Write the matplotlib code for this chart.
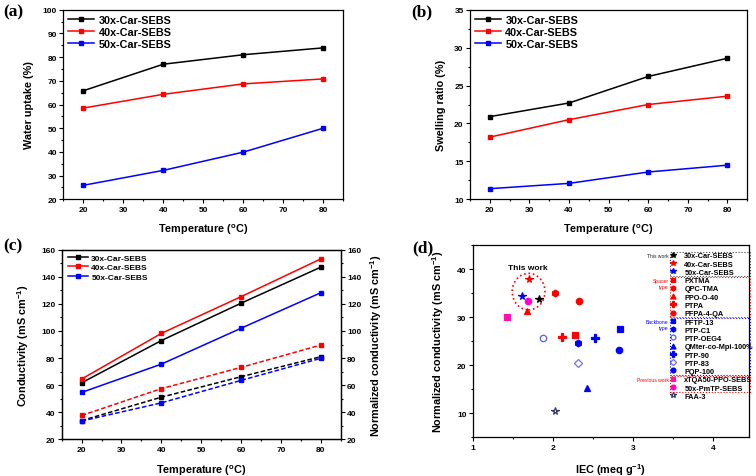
import matplotlib
matplotlib.use('Agg')
import matplotlib.pyplot as plt
from matplotlib.patches import Ellipse, Rectangle
from matplotlib.ticker import MultipleLocator

plt.rcParams['font.family'] = ['Liberation Sans', 'DejaVu Sans']
plt.rcParams['font.weight'] = 'bold'
plt.rcParams['mathtext.default'] = 'regular'
plt.rcParams['axes.linewidth'] = 0.9

# ---------------- data ----------------
temperature = [20, 40, 60, 80]
series_names = ['30x-Car-SEBS', '40x-Car-SEBS', '50x-Car-SEBS']
series_colors = ['black', 'red', 'blue']

water_30 = [65.8, 77.0, 81.0, 83.9]
water_40 = [58.5, 64.3, 68.7, 70.8]
water_50 = [25.9, 32.2, 39.9, 50.0]

swell_30 = [20.9, 22.7, 26.2, 28.6]
swell_40 = [18.2, 20.5, 22.5, 23.6]
swell_50 = [11.4, 12.1, 13.6, 14.5]

cond_30 = [61.7, 92.9, 120.5, 147.1]
cond_40 = [64.5, 98.2, 125.3, 153.2]
cond_50 = [54.6, 75.5, 102.0, 128.2]

norm_30 = [33.8, 51.1, 66.2, 81.0]
norm_40 = [37.6, 57.4, 73.1, 89.6]
norm_50 = [33.5, 46.9, 63.5, 79.8]

mem_names = ['30x-Car-SEBS', '40x-Car-SEBS', '50x-Car-SEBS',
             'PXTMA', 'QPC-TMA', 'PPO-O-40', 'PTPA', 'PFPA-4-QA',
             'PFTP-13', 'PTP-C1', 'PTP-OEG4', 'QMter-co-Mpi-100%', 'PTP-90', 'PTP-83', 'PQP-100',
             'xTQA50-PPO-SEBS', '50x-PmTP-SEBS', 'FAA-3']
mem_iec = [1.82, 1.70, 1.61,
           2.28, 2.03, 1.67, 2.11, 2.32,
           2.84, 2.31, 1.87, 2.43, 2.52, 2.31, 2.82,
           1.43, 1.69, 2.02]
mem_normcond = [33.7, 37.9, 34.3,
                26.3, 35.1, 31.3, 25.8, 33.3,
                27.5, 24.6, 25.7, 15.3, 25.6, 20.4, 23.1,
                30.0, 33.3, 10.4]

# styles for panel (d)
mem_markers = ['*', '*', '*', 's', 'h', '^', 'P', 'o',
               's', 'h', 'o', '^', 'P', 'D', 'o', 's', 'o', '*']
mem_face = ['black', 'red', 'blue', 'red', 'red', 'red', 'red', 'red',
            'blue', 'blue', 'none', 'blue', 'blue', 'none', 'blue',
            '#ff10b0', '#ff00cc', 'none']
mem_edge = ['black', 'red', 'blue', 'red', 'red', 'red', 'red', 'red',
            'blue', 'blue', '#5a5aff', 'blue', 'blue', '#7070ff', 'blue',
            '#ff10b0', '#ff00cc', '#3a3a66']
mem_size = [5.5, 5.5, 5.5, 4.3, 4.8, 4.8, 5.2, 4.6,
            4.3, 4.8, 4.6, 4.8, 5.2, 4.2, 4.6, 4.3, 4.6, 5.5]
groups = [(0, 3, 'This work', '#444444', '#222222'),
          (3, 8, 'Spacer\ntype', 'red', 'red'),
          (8, 15, 'Backbone\ntype', 'blue', 'blue'),
          (15, 17, 'Previous work', 'red', 'red')]

W, H = 756, 477
fig = plt.figure(figsize=(W / 100, H / 100), dpi=100)


def add_axes_px(l, t, r, b):
    return fig.add_axes([l / W, 1 - b / H, (r - l) / W, (b - t) / H])


def style_axes(ax, xlim, xmaj, xmin, ylim, ymaj, ymin):
    ax.set_xlim(*xlim)
    ax.set_ylim(*ylim)
    ax.xaxis.set_major_locator(MultipleLocator(xmaj))
    ax.xaxis.set_minor_locator(MultipleLocator(xmin))
    ax.yaxis.set_major_locator(MultipleLocator(ymaj))
    ax.yaxis.set_minor_locator(MultipleLocator(ymin))
    ax.tick_params(which='both', direction='out', top=False, right=False,
                   labelsize=6, width=0.8, pad=2)
    ax.tick_params(which='major', length=2.6)
    ax.tick_params(which='minor', length=1.4)


label_kw = dict(fontsize=7.8, fontweight='bold')
leg_big = dict(loc='upper left', frameon=False, handlelength=2.4,
               handletextpad=0.4, labelspacing=0.18, borderpad=0, borderaxespad=0,
               prop={'weight': 'bold', 'size': 7.8})

# ---------- (a) ----------
axa = add_axes_px(63.3, 10.7, 343.3, 200.3)
for vals, name, col in zip([water_30, water_40, water_50], series_names, series_colors):
    axa.plot(temperature, vals, '-s', color=col, lw=1.1, ms=3.2, label=name)
style_axes(axa, (15, 85), 10, 5, (20, 100), 10, 5)
axa.set_xlabel('Temperature ($^{o}$C)', **label_kw)
axa.set_ylabel('Water uptake (%)', **label_kw)
axa.yaxis.set_label_coords(-0.103, 0.5)
axa.xaxis.set_label_coords(0.5, -0.12)
axa.legend(bbox_to_anchor=(0.018, 0.972), **leg_big)

# ---------- (b) ----------
axb = add_axes_px(470, 10.7, 747.3, 200.3)
for vals, name, col in zip([swell_30, swell_40, swell_50], series_names, series_colors):
    axb.plot(temperature, vals, '-s', color=col, lw=1.1, ms=3.2, label=name)
style_axes(axb, (15, 85), 10, 5, (10, 35), 5, 2.5)
axb.set_xlabel('Temperature ($^{o}$C)', **label_kw)
axb.set_ylabel('Swelling ratio (%)', **label_kw)
axb.yaxis.set_label_coords(-0.087, 0.5)
axb.xaxis.set_label_coords(0.5, -0.12)
axb.legend(bbox_to_anchor=(0.018, 0.972), **leg_big)

# ---------- (c) ----------
axc = add_axes_px(61.7, 250.7, 340.7, 440.3)
for vals, name, col in zip([cond_30, cond_40, cond_50], series_names, series_colors):
    axc.plot(temperature, vals, '-s', color=col, lw=1.1, ms=3.0, label=name)
style_axes(axc, (15, 85), 10, 5, (20, 160), 20, 10)
axc2 = axc.twinx()
for vals, col in zip([norm_30, norm_40, norm_50], series_colors):
    axc2.plot(temperature, vals, '--s', color=col, lw=1.1, ms=3.0, dashes=(3, 1.5))
axc2.set_ylim(20, 160)
axc2.yaxis.set_major_locator(MultipleLocator(20))
axc2.yaxis.set_minor_locator(MultipleLocator(10))
axc2.tick_params(which='both', direction='out', labelsize=6, width=0.8, pad=2)
axc2.tick_params(which='major', length=2.6)
axc2.tick_params(which='minor', length=1.4)
axc.set_xlabel('Temperature ($^{o}$C)', **label_kw)
axc.set_ylabel('Conductivity (mS cm$^{-1}$)', **label_kw)
axc2.set_ylabel('Normalized conductivity (mS cm$^{-1}$)', **label_kw)
axc.yaxis.set_label_coords(-0.109, 0.5)
axc2.yaxis.set_label_coords(1.10, 0.5)
axc.xaxis.set_label_coords(0.5, -0.121)
axc.legend(loc='upper left', bbox_to_anchor=(0.024, 0.978), frameon=False,
           handlelength=2.3, handletextpad=0.45, labelspacing=0.22, borderpad=0,
           borderaxespad=0, prop={'weight': 'bold', 'size': 6})

# ---------- (d) ----------
axd = add_axes_px(473, 246, 749, 438.3)
for i in range(len(mem_names)):
    axd.plot([mem_iec[i]], [mem_normcond[i]], ls='none', marker=mem_markers[i],
             ms=mem_size[i], mfc=mem_face[i], mec=mem_edge[i], mew=0.9,
             label=mem_names[i])
style_axes(axd, (1, 4.45), 1, 0.5, (5, 45), 10, 5)
axd.set_xlabel('IEC (meq g$^{-1}$)', **label_kw)
axd.set_ylabel('Normalized conductivity (mS cm$^{-1}$)', **label_kw)
axd.yaxis.set_label_coords(-0.0986, 0.5)
axd.xaxis.set_label_coords(0.5, -0.123)
this_work_center = (1.695, 35.3)
axd.add_patch(Ellipse(this_work_center, 0.41, 7.6, fill=False, ec='red', ls=':', lw=1.2))
axd.text(1.69, 40.35, 'This work', ha='center', va='center', fontsize=6, fontweight='bold')

legd = axd.legend(loc='upper left', bbox_to_anchor=(0.715, 0.962), frameon=False,
                  handlelength=0.8, handletextpad=1.1, labelspacing=0.15,
                  borderpad=0, borderaxespad=0, markerscale=0.75,
                  prop={'weight': 'bold', 'size': 5.3})

# panel letters
for lab, x, y in [('(a)', 3, 12), ('(b)', 411, 12), ('(c)', 3, 246), ('(d)', 412, 248)]:
    fig.text(x / W, 1 - y / H, lab, fontfamily='Liberation Serif', fontsize=12.5,
             fontweight='bold', va='center', ha='left')

# group boxes for the legend of (d)
fig.canvas.draw()
rend = fig.canvas.get_renderer()
inv = fig.transFigure.inverted()
bbs = [t.get_window_extent(rend) for t in legd.get_texts()]
centers = [(bb.y0 + bb.y1) / 2 for bb in bbs]
sp = (centers[0] - centers[-1]) / (len(centers) - 1)
text_x0 = bbs[0].x0
ax_right = axd.get_window_extent(rend).x1
box_left = text_x0 - 14.3
box_right = ax_right + 1
for i0, i1, glab, ec, tc in groups:
    top = centers[i0] + sp / 2 - 0.4
    bot = centers[i1 - 1] - sp / 2 + 0.4
    (fx0, fy0) = inv.transform((box_left, bot))
    (fx1, fy1) = inv.transform((box_right, top))
    fig.add_artist(Rectangle((fx0, fy0), fx1 - fx0, fy1 - fy0, fill=False,
                             ec=ec, ls=':', lw=0.8, transform=fig.transFigure))
    if '\n' in glab:
        ly = (centers[i0] + centers[i0 + 1]) / 2 + 1.5
    else:
        ly = centers[i0]
    lx, lyf = inv.transform((box_left - 1.5, ly))
    fig.text(lx, lyf, glab, ha='right', va='center', fontsize=3.6, color=tc,
             fontweight='normal', linespacing=1.1)

fig.savefig('out.png', dpi=100)
